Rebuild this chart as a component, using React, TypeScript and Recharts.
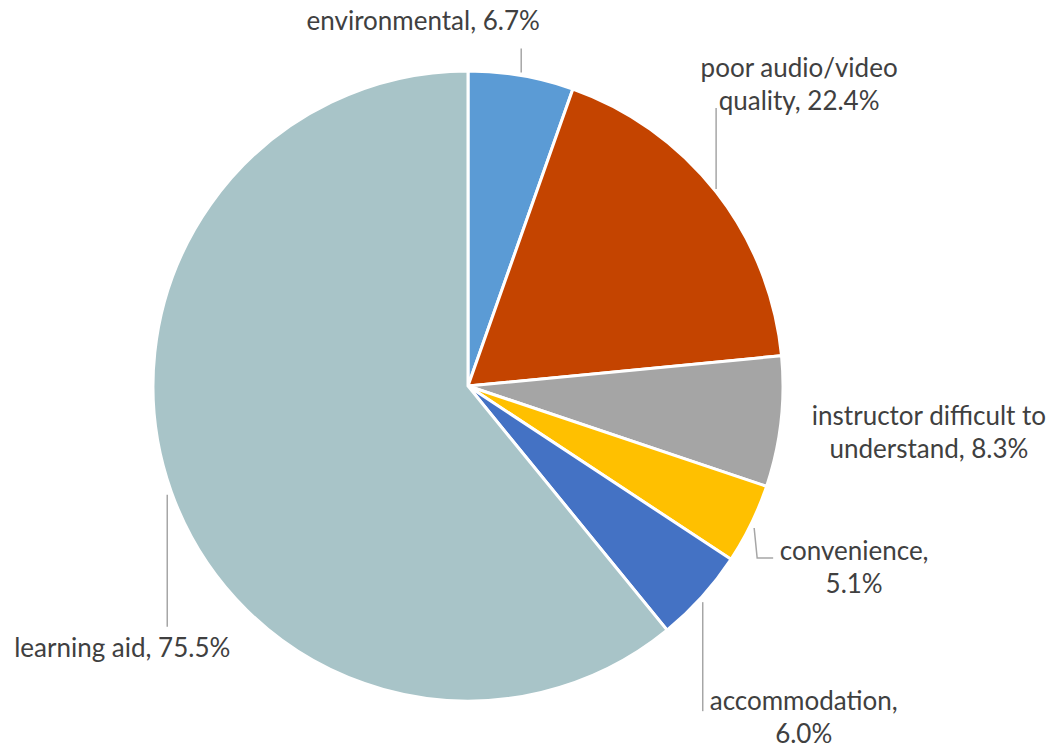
import { PieChart, Pie, Cell } from "recharts";

const categories = [
  "environmental",
  "poor audio/video quality",
  "instructor difficult to understand",
  "convenience",
  "accommodation",
  "learning aid",
];
const values = [6.7, 22.4, 8.3, 5.1, 6.0, 75.5];
// label text, split into lines the way the original wraps them
const labelLines = [
  ["environmental, 6.7%"],
  ["poor audio/video", "quality, 22.4%"],
  ["instructor difficult to", "understand, 8.3%"],
  ["convenience,", "5.1%"],
  ["accommodation,", "6.0%"],
  ["learning aid, 75.5%"],
];
const COLORS = ["#5B9BD5", "#C44400", "#A5A5A5", "#FFC000", "#4472C4", "#A8C4C8"];

// text offset from the slice's edge point; leader: path points relative to edge point
const LABEL_LAYOUT = [
  { dx: -98, dy: -56, leader: [[0, -3], [0, -27]] },
  { dx: 83, dy: -108, leader: [[0, -3], [0, -84]] },
  { dx: 148, dy: 10, leader: [] },
  { dx: 103, dy: 42, leader: [[3, 4], [6, 34], [22, 34]] },
  { dx: 102, dy: 119, leader: [[1, 5], [1, 114]] },
  { dx: -49, dy: 155, leader: [[-4, 3], [-4, 135]] },
];

const data = categories.map((name, i) => ({ name, value: values[i] }));

const RAD = Math.PI / 180;
const LINE_H = 33;

function renderLabel(props: any) {
  const { cx, cy, midAngle, outerRadius, index } = props;
  const ex = cx + outerRadius * Math.cos(-midAngle * RAD);
  const ey = cy + outerRadius * Math.sin(-midAngle * RAD);
  const layout = LABEL_LAYOUT[index];
  const lines = labelLines[index];
  const tx = ex + layout.dx;
  const top = ey + layout.dy - ((lines.length - 1) * LINE_H) / 2;
  const pts = layout.leader.map(([x, y]) => `${ex + x},${ey + y}`).join(" ");
  return (
    <g key={`lbl-${index}`}>
      {layout.leader.length > 0 && (
        <polyline points={pts} fill="none" stroke="#A6A6A6" strokeWidth={1.5} />
      )}
      <text
        x={tx}
        y={top}
        textAnchor="middle"
        dominantBaseline="central"
        fill="#404040"
        fontSize={26}
        fontFamily="Lato, sans-serif"
      >
        {lines.map((ln, j) => (
          <tspan key={j} x={tx} y={top + j * LINE_H}>
            {ln}
          </tspan>
        ))}
      </text>
    </g>
  );
}

export default function App() {
  return (
    <div style={{ position: "absolute", left: 0, top: 0, background: "#fff" }}>
      <PieChart width={1051} height={750} margin={{ top: 0, right: 0, bottom: 0, left: 0 }}>
        <Pie
          data={data}
          dataKey="value"
          nameKey="name"
          cx={468}
          cy={386}
          outerRadius={315}
          startAngle={90}
          endAngle={-270}
          stroke="#fff"
          strokeWidth={3}
          labelLine={false}
          label={renderLabel}
          isAnimationActive={false}
        >
          {data.map((_, i) => (
            <Cell key={i} fill={COLORS[i]} />
          ))}
        </Pie>
      </PieChart>
    </div>
  );
}
